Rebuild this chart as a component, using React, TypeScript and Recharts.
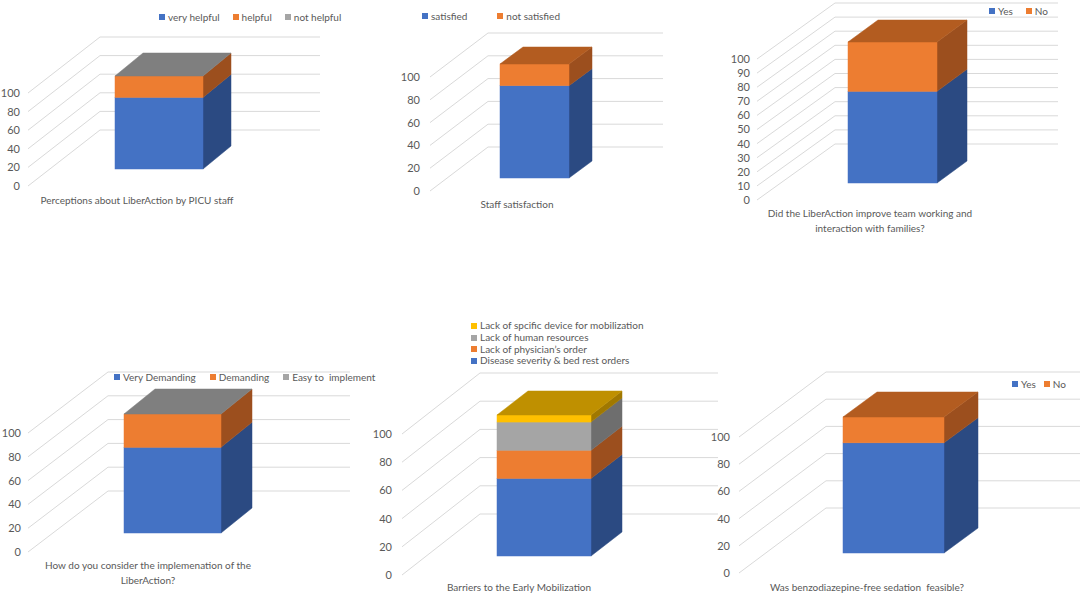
import React from "react";
import { BarChart, Bar, XAxis, YAxis, CartesianGrid, Legend } from "recharts";

const FONT = "Lato, 'Liberation Sans', sans-serif";
const TEXT = "#595959";
const GRID = "#d9d9d9";

const BLUE = { front: "#4472c4", side: "#2b4a82", top: "#3a62a8" };
const ORANGE = { front: "#ed7d31", side: "#9c4f1e", top: "#b35c20" };
const GREY = { front: "#a5a5a5", side: "#6e6e6e", top: "#7f7f7f" };
const GOLD = { front: "#ffc000", side: "#a07800", top: "#bf9000" };

const ticks20 = [0, 20, 40, 60, 80, 100];
const ticks10 = [0, 10, 20, 30, 40, 50, 60, 70, 80, 90, 100];

// 1. perceptions
const perceptionCats = ["Perceptions about LiberAction by PICU staff"];
const veryHelpful = [77];
const helpful = [23];
const notHelpful = [0];

// 2. staff satisfaction
const satisfactionCats = ["Staff satisfaction"];
const satisfied = [81];
const notSatisfied = [19];

// 3. team working
const teamCats = ["Did the LiberAction improve team working and\ninteraction with families?"];
const teamYes = [65];
const teamNo = [35];

// 4. implementation
const implCats = ["How do you consider the implemenation of the\nLiberAction?"];
const veryDemanding = [72];
const demanding = [28];
const easyToImplement = [0];

// 5. barriers
const barrierCats = ["Barriers to the Early Mobilization"];
const diseaseSeverity = [55];
const physicianOrder = [20];
const humanResources = [20];
const specificDevice = [5];

// 6. benzodiazepine-free sedation
const sedationCats = ["Was benzodiazepine-free sedation  feasible?"];
const sedationYes = [81];
const sedationNo = [19];

type Faces = { front: string; side: string; top: string };
type Series = { key: string; name: string; values: number[]; faces: Faces };

const charts = [
  {
    cats: perceptionCats,
    ticks: ticks20,
    series: [
      { key: "vh", name: "very helpful", values: veryHelpful, faces: BLUE },
      { key: "h", name: "helpful", values: helpful, faces: ORANGE },
      { key: "nh", name: "not helpful", values: notHelpful, faces: GREY },
    ],
    box: { left: 0, top: 0, width: 350, height: 215 },
    plotLeft: 28, plotRight: 320, y0: 186, y100: 93, tickGap: 8,
    slant: [72, 56], bar: [115, 203], lift: 17, depth: [28, 23],
    titleX: 137, titleDy: 17.5,
    legend: { left: 160, cy: 17, gap: 13 },
  },
  {
    cats: satisfactionCats,
    ticks: ticks20,
    series: [
      { key: "s", name: "satisfied", values: satisfied, faces: BLUE },
      { key: "ns", name: "not satisfied", values: notSatisfied, faces: ORANGE },
    ],
    box: { left: 360, top: 0, width: 360, height: 215 },
    plotLeft: 430, plotRight: 663, y0: 191, y100: 77, tickGap: 10,
    slant: [58, 44], bar: [500, 569], lift: 13, depth: [23, 17],
    titleX: 517, titleDy: 16.5,
    legend: { left: 423, cy: 16, gap: 30 },
  },
  {
    cats: teamCats,
    ticks: ticks10,
    series: [
      { key: "y", name: "Yes", values: teamYes, faces: BLUE },
      { key: "n", name: "No", values: teamNo, faces: ORANGE },
    ],
    box: { left: 720, top: 0, width: 364, height: 240 },
    plotLeft: 757, plotRight: 1058, y0: 200, y100: 59, tickGap: 7,
    slant: [78, 56], bar: [848, 937], lift: 17, depth: [30, 22],
    titleX: 870, titleDy: 16.5,
    legend: { left: 990, cy: 11, gap: 13 },
  },
  {
    cats: implCats,
    ticks: ticks20,
    series: [
      { key: "vd", name: "Very Demanding", values: veryDemanding, faces: BLUE },
      { key: "d", name: "Demanding", values: demanding, faces: ORANGE },
      { key: "e", name: "Easy to  implement", values: easyToImplement, faces: GREY },
    ],
    box: { left: 0, top: 315, width: 360, height: 280 },
    plotLeft: 28, plotRight: 350, y0: 552, y100: 433, tickGap: 7,
    slant: [80, 61], bar: [124, 221], lift: 19, depth: [31, 25],
    titleX: 148, titleDy: 16.5,
    legend: { left: 115, cy: 377, gap: 14 },
  },
  {
    cats: barrierCats,
    ticks: ticks20,
    series: [
      { key: "ds", name: "Disease severity & bed rest orders", values: diseaseSeverity, faces: BLUE },
      { key: "po", name: "Lack of physician\u2019s order", values: physicianOrder, faces: ORANGE },
      { key: "hr", name: "Lack of human resources", values: humanResources, faces: GREY },
      { key: "sd", name: "Lack of spcific device for mobilization", values: specificDevice, faces: GOLD },
    ],
    box: { left: 360, top: 315, width: 360, height: 280 },
    plotLeft: 402, plotRight: 718, y0: 575, y100: 434, tickGap: 10,
    slant: [78, 61], bar: [497, 591], lift: 19, depth: [31, 24],
    titleX: 519, titleDy: 15.5,
    legend: { left: 472, cy: 326, gap: 0, vertical: true },
  },
  {
    cats: sedationCats,
    ticks: ticks20,
    series: [
      { key: "y", name: "Yes", values: sedationYes, faces: BLUE },
      { key: "n", name: "No", values: sedationNo, faces: ORANGE },
    ],
    box: { left: 700, top: 315, width: 384, height: 280 },
    plotLeft: 739, plotRight: 1080, y0: 573, y100: 437, tickGap: 9,
    slant: [87, 65], bar: [843, 944], lift: 20, depth: [34, 25],
    titleX: 867, titleDy: 17.5,
    legend: { left: 1013, cy: 384, gap: 8 },
  },
];

// draws one stacked segment as a box: front, right side, and the lid if it is the top one
const boxShape =
  (faces: Faces, lid: string | null, lift: number, ddx: number, ddy: number) => (p: any) => {
    const { x, y, width, height } = p;
    if (!(height > 0)) return <g />;
    const fy = y - lift;
    const by = fy + height;
    const r = x + width;
    return (
      <g>
        <polygon
          points={`${r},${fy} ${r + ddx},${fy - ddy} ${r + ddx},${by - ddy} ${r},${by}`}
          fill={faces.side}
          stroke={faces.side}
          strokeWidth={0.5}
        />
        <rect x={x} y={fy} width={width} height={height} fill={faces.front} stroke={faces.front} strokeWidth={0.5} />
        {lid && (
          <polygon
            points={`${x},${fy} ${x + ddx},${fy - ddy} ${r + ddx},${fy - ddy} ${r},${fy}`}
            fill={lid}
            stroke={lid}
            strokeWidth={0.5}
          />
        )}
      </g>
    );
  };

// floor-to-back-wall gridline
const gridLine = (dx: number, dy: number) => (p: any) => {
  const { x1, x2, y1, index } = p;
  return (
    <polyline
      key={`g-${index}-${y1}`}
      points={`${x1},${y1} ${x1 + dx},${y1 - dy} ${x2},${y1 - dy}`}
      fill="none"
      stroke={GRID}
      strokeWidth={1}
    />
  );
};

const TitleTick = (props: any) => {
  const { x, y, payload, shift, dy } = props;
  const lines = String(payload.value).split("\n");
  return (
    <text
      x={x + shift}
      y={y + dy}
      textAnchor="middle"
      fill={TEXT}
      fontSize={10}
      fontFamily={FONT}
      style={{ whiteSpace: "pre" }}
    >
      {lines.map((l, i) => (
        <tspan key={i} x={x + shift} dy={i ? 15 : 0}>
          {l}
        </tspan>
      ))}
    </text>
  );
};

const LegendBox = (props: any) => {
  const { payload = [], vertical, gap, order } = props;
  const sorted = [...payload].sort((a: any, b: any) => order.indexOf(a.value) - order.indexOf(b.value));
  const items = vertical ? sorted.reverse() : sorted;
  return (
    <div
      style={{
        display: "flex",
        flexDirection: vertical ? "column" : "row",
        columnGap: gap,
        fontFamily: FONT,
        fontSize: 10,
        color: TEXT,
        whiteSpace: "pre",
        lineHeight: vertical ? "11.7px" : "12px",
      }}
    >
      {items.map((it: any) => (
        <div key={it.value} style={{ display: "flex", alignItems: "center" }}>
          <span style={{ width: 6, height: 6, background: it.color, marginRight: 3, display: "inline-block" }} />
          {it.value}
        </div>
      ))}
    </div>
  );
};

function Chart3D({ cfg }: { cfg: any }) {
  const { cats, ticks, box, legend } = cfg;
  const series: Series[] = cfg.series;
  const data = cats.map((name: string, i: number) => {
    const row: Record<string, string | number> = { name };
    series.forEach((s) => (row[s.key] = s.values[i]));
    return row;
  });
  const yAxisW = cfg.plotLeft - box.left;
  const marginTop = cfg.y100 - box.top;
  const xAxisH = box.top + box.height - cfg.y0;
  const marginRight = box.left + box.width - cfg.plotRight;
  const barW = cfg.bar[1] - cfg.bar[0];
  const barCenter = (cfg.bar[0] + cfg.bar[1]) / 2;
  const diff = 2 * barCenter - cfg.plotLeft - cfg.plotRight;
  const padding = diff > 0 ? { left: diff, right: 0 } : { left: 0, right: -diff };
  const lidFill = series[series.length - 1].faces.top;
  let topIdx = 0;
  series.forEach((s, i) => {
    if (s.values[0] > 0) topIdx = i;
  });
  const legendH = legend.vertical ? 11.7 : 12;

  return (
    <div style={{ position: "absolute", left: box.left, top: box.top }}>
      <BarChart
        width={box.width}
        height={box.height}
        data={data}
        margin={{ top: marginTop, right: marginRight, left: 0, bottom: 0 }}
      >
        <CartesianGrid vertical={false} horizontal={gridLine(cfg.slant[0], cfg.slant[1])} />
        <XAxis
          dataKey="name"
          height={xAxisH}
          axisLine={false}
          tickLine={false}
          tickSize={0}
          tickMargin={0}
          interval={0}
          padding={padding}
          tick={<TitleTick shift={cfg.titleX - barCenter} dy={cfg.titleDy} />}
        />
        <YAxis
          width={yAxisW}
          domain={[0, 100]}
          ticks={ticks}
          interval={0}
          axisLine={false}
          tickLine={false}
          tickSize={0}
          tickMargin={cfg.tickGap}
          tick={{ fill: TEXT, fontSize: 11, fontFamily: FONT }}
        />
        <Legend
          layout="vertical"
          align="center"
          verticalAlign="middle"
          wrapperStyle={{ left: legend.left - box.left - 1, top: legend.cy - box.top - legendH / 2, width: "auto" }}
          content={
            <LegendBox vertical={legend.vertical} gap={legend.gap} order={series.map((s) => s.name)} />
          }
        />
        {series.map((s, i) => (
          <Bar
            key={s.key}
            dataKey={s.key}
            name={s.name}
            stackId="a"
            fill={s.faces.front}
            barSize={barW}
            isAnimationActive={false}
            shape={boxShape(s.faces, i === topIdx ? lidFill : null, cfg.lift, cfg.depth[0], cfg.depth[1])}
          />
        ))}
      </BarChart>
    </div>
  );
}

export default function App() {
  return (
    <div style={{ position: "relative", width: 1084, height: 595, background: "#fff", overflow: "hidden" }}>
      <style>{"body{margin:0}"}</style>
      {charts.map((c, i) => (
        <Chart3D key={i} cfg={c} />
      ))}
    </div>
  );
}
